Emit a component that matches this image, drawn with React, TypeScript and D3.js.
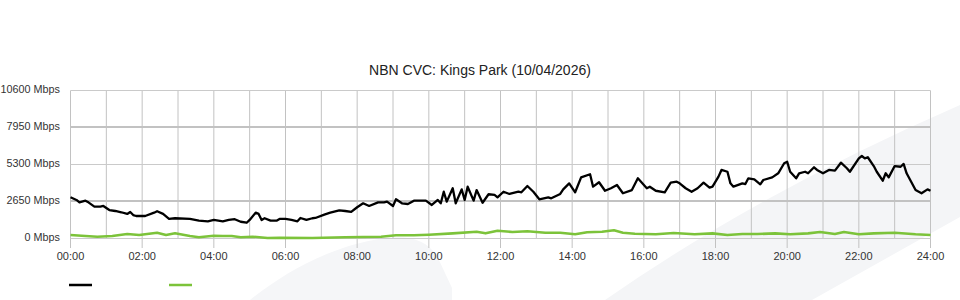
import React from "react";
import * as d3 from "d3";

const chartTitle = "NBN CVC: Kings Park (10/04/2026)";
const yTickValues = [0, 2650, 5300, 7950, 10600];
const yTickLabels = ["0 Mbps", "2650 Mbps", "5300 Mbps", "7950 Mbps", "10600 Mbps"];
const xTickLabels = ["00:00", "02:00", "04:00", "06:00", "08:00", "10:00", "12:00", "14:00", "16:00", "18:00", "20:00", "22:00", "24:00"];
const gridHours = d3.range(0, 25);

const blackMinutes = [
  0, 10, 15, 25, 30, 40, 50, 55, 65, 75, 85, 95, 100, 105, 110, 125, 140, 145, 155, 165, 175, 200, 215, 230, 240, 255, 265, 275, 285, 295,
  300, 310, 315, 320, 325, 335, 345, 350, 360, 370, 380, 385, 395, 405, 410, 425, 435, 450, 460, 470, 480, 490, 500, 515, 525, 530, 540, 545, 555, 565,
  575, 585, 595, 605, 615, 620, 625, 630, 640, 645, 655, 660, 665, 675, 680, 690, 700, 710, 715, 725, 735, 750, 755, 765, 775, 785, 800, 805, 820, 825,
  835, 845, 855, 870, 875, 885, 895, 905, 915, 925, 940, 950, 965, 970, 980, 995, 1005, 1015, 1020, 1030, 1040, 1050, 1060, 1070, 1075, 1085, 1090, 1100, 1105, 1110,
  1125, 1130, 1135, 1145, 1155, 1160, 1175, 1185, 1195, 1200, 1205, 1215, 1220, 1230, 1235, 1245, 1250, 1260, 1270, 1280, 1290, 1300, 1305, 1320, 1325, 1330, 1335, 1345, 1350, 1360,
  1365, 1370, 1380, 1390, 1395, 1400, 1415, 1425, 1435, 1440,
];
const blackValues = [
  2950, 2760, 2590, 2710, 2590, 2280, 2280, 2330, 2040, 1970, 1880, 1760, 1900, 1680, 1610, 1610, 1850, 1950, 1760, 1400, 1450, 1400, 1280, 1230, 1330, 1230, 1330, 1380, 1200, 1130,
  1330, 1850, 1760, 1330, 1450, 1280, 1280, 1400, 1400, 1330, 1230, 1470, 1330, 1450, 1470, 1710, 1850, 2020, 1970, 1900, 2240, 2520, 2330, 2590, 2590, 2640, 2330, 2810, 2520, 2470,
  2710, 2710, 2710, 2400, 2760, 2520, 3350, 2640, 3600, 2520, 3520, 2760, 3710, 2710, 3470, 2560, 3170, 3120, 2950, 3350, 3190, 3350, 3310, 3760, 3350, 2810, 2950, 2880, 3190, 3520,
  3950, 3310, 4380, 4600, 3710, 4030, 3420, 3600, 3830, 3240, 3470, 4310, 3600, 3710, 3420, 3310, 4000, 4070, 3950, 3600, 3350, 3600, 4000, 3640, 3710, 4430, 4910, 4780, 3950, 3710,
  3950, 3900, 4310, 4240, 3880, 4190, 4380, 4670, 5390, 5500, 4780, 4310, 4670, 4780, 4670, 5100, 4910, 4670, 4910, 4860, 5430, 5030, 4780, 5740, 5910, 5740, 5820, 5190, 4780, 4140,
  4670, 4380, 5190, 5140, 5340, 4670, 3470, 3240, 3520, 3420,
];

const greenMinutes = [
  0, 25, 45, 70, 95, 115, 145, 160, 175, 200, 215, 240, 255, 270, 285, 305, 330, 350, 405, 460, 520, 545, 575, 600, 640, 680, 695, 715, 740, 765,
  795, 820, 845, 865, 890, 910, 925, 945, 980, 1010, 1045, 1075, 1100, 1125, 1150, 1180, 1205, 1235, 1255, 1280, 1295, 1320, 1345, 1380, 1415, 1440,
];
const greenValues = [
  250, 180, 130, 180, 320, 250, 415, 250, 370, 180, 85, 200, 180, 180, 85, 130, 35, 55, 35, 85, 130, 230, 230, 270, 370, 485, 370, 560, 465, 515,
  415, 415, 300, 445, 485, 585, 415, 345, 300, 395, 300, 370, 250, 320, 320, 370, 300, 370, 465, 320, 465, 300, 370, 415, 300, 250,
];

const FONT = "'Liberation Sans', Arial, Helvetica, sans-serif";

export default function App() {
  const W = 960;
  const H = 300;
  const x = d3.scaleLinear().domain([0, 1440]).range([70.5, 930.5]);
  const y = d3.scaleLinear().domain([0, 10600]).range([238.5, 90.5]);

  const line = d3
    .line<[number, number]>()
    .x((d) => x(d[0]))
    .y((d) => y(d[1]));

  const blackData: [number, number][] = blackMinutes.map((m, i) => [m, blackValues[i]]);
  const greenData: [number, number][] = greenMinutes.map((m, i) => [m, greenValues[i]]);

  return (
    <svg
      width={W}
      height={H}
      style={{ position: "absolute", left: 0, top: 0, background: "#fff" }}
    >
      {/* background decoration */}
      <path d="M250,300 C285,272 330,246 385,238 C410,235 428,240 438,258 L452,288 L452,300 Z" fill="#f5f6f8" />
      <path d="M605,300 Q760,192 960,105 L960,217 L812,300 Z" fill="#f4f5f7" />

      {/* vertical grid */}
      {gridHours.map((h) => (
        <line
          key={"v" + h}
          x1={x(h * 60)}
          x2={x(h * 60)}
          y1={90.5}
          y2={h % 2 === 0 ? 248 : 238.5}
          stroke="#c2c2c2"
          strokeWidth={1}
        />
      ))}
      {/* horizontal grid */}
      {yTickValues.map((v, i) => {
        const thick = i === 1 || i === 3;
        const yy = thick ? Math.floor(y(v)) : y(v);
        return (
          <line
            key={"h" + v}
            x1={70.5}
            x2={930.5}
            y1={yy}
            y2={yy}
            stroke={thick ? "#c2c2c2" : "#cacaca"}
            strokeWidth={thick ? 2 : 1}
          />
        );
      })}

      {/* series */}
      <path d={line(greenData) || ""} fill="none" stroke="#7cc33a" strokeWidth={2.6} strokeLinejoin="round" />
      <path d={line(blackData) || ""} fill="none" stroke="#000" strokeWidth={2.3} strokeLinejoin="round" />

      {/* y labels */}
      {yTickValues.map((v, i) => (
        <text
          key={"yl" + v}
          x={60}
          y={y(v) + 2}
          textAnchor="end"
          fontFamily={FONT}
          fontSize={10.8}
          fill="#333"
        >
          {yTickLabels[i]}
        </text>
      ))}
      {/* x labels */}
      {xTickLabels.map((t, i) => (
        <text
          key={"xl" + t}
          x={x(i * 120)}
          y={260}
          textAnchor="middle"
          fontFamily={FONT}
          fontSize={11}
          fill="#333"
        >
          {t}
        </text>
      ))}

      {/* title */}
      <text x={480} y={75} textAnchor="middle" fontFamily={FONT} fontSize={14} fill="#222">
        {chartTitle}
      </text>

      {/* legend */}
      <line x1={69} x2={92} y1={285} y2={285} stroke="#000" strokeWidth={2.5} />
      <line x1={169} x2={192} y1={285} y2={285} stroke="#7cc33a" strokeWidth={2.5} />
    </svg>
  );
}
